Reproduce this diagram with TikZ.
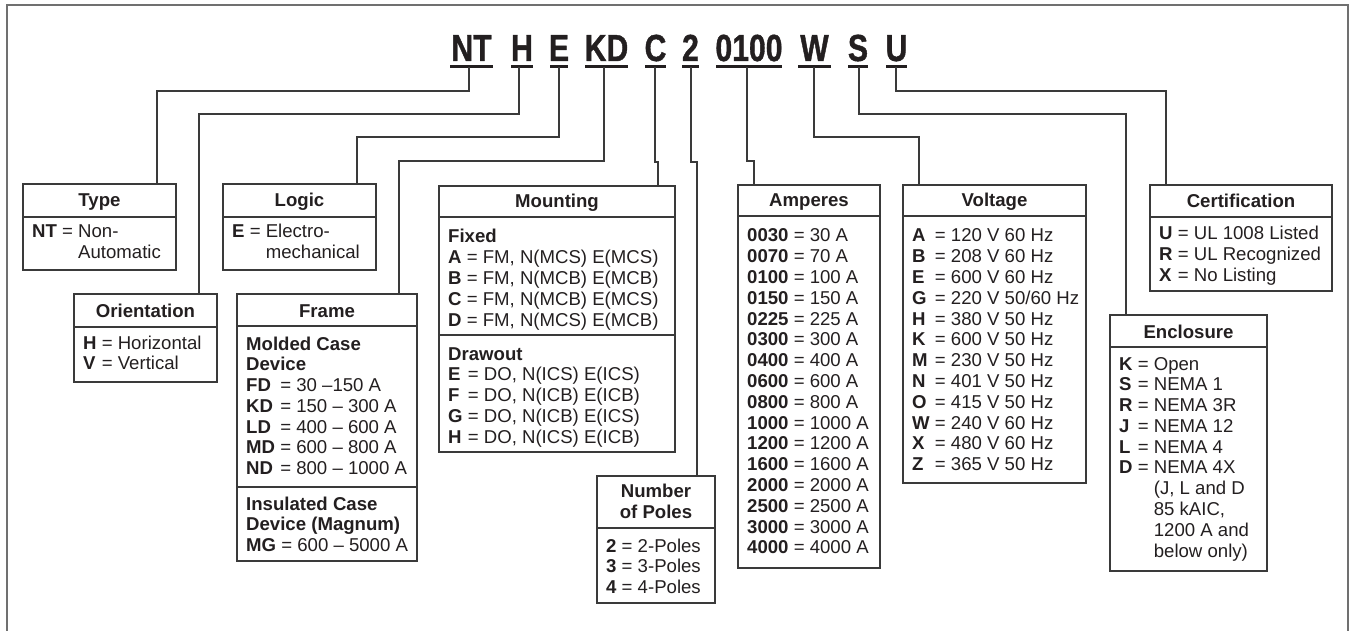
\documentclass[tikz,border=0pt]{standalone}
\usepackage{fontspec}
\setmainfont{Liberation Sans}
\newfontfamily\codefont[FakeBold=1.2]{Liberation Sans Bold}
\usepackage{array}
\definecolor{ink}{HTML}{231F20}
\definecolor{linec}{HTML}{3A3A3A}
\definecolor{framec}{HTML}{707070}
\tikzset{
  boxs/.style={draw=linec, line width=1.4pt, inner sep=0pt, outer sep=0pt, anchor=north west},
  divl/.style={draw=linec, line width=1.4pt},
  conn/.style={draw=linec, line width=1.3pt},
  hdr/.style={font=\bfseries\fontsize{18.6}{20.8}\selectfont, text=ink, anchor=base, inner sep=0pt},
  body/.style={font=\fontsize{18.6}{20.8}\selectfont, text=ink, anchor=base west, inner sep=0pt},
  codet/.style={font=\codefont\fontsize{37.7}{40}\selectfont, text=ink, anchor=base, inner sep=0pt},
  uline/.style={draw=ink, line width=3pt},
}
\newcommand\tb[1]{\begin{tabular}[t]{@{}>{\bfseries}l@{\ }l@{\ }l@{}}#1\end{tabular}}
\newcommand\sh[1]{\multicolumn{3}{@{}l@{}}{\textbf{#1}}}
\newcommand\cs[1]{\scalebox{0.8}[1]{#1}}
\begin{document}
\begin{tikzpicture}[x=1pt,y=-1pt]
\useasboundingbox (0,0) rectangle (1350,631);
% outer frame
\draw[framec, line width=2pt] (7,631) -- (7,5) -- (1348,5) -- (1348,631);

% code
\node[codet] (c-nt) at (471.5,61) {\cs{NT}};
\node[codet] (c-h) at (522,61) {\cs{H}};
\node[codet] (c-e) at (559,61) {\cs{E}};
\node[codet] (c-kd) at (606.5,61) {\cs{KD}};
\node[codet] (c-c) at (655.5,61) {\cs{C}};
\node[codet] (c-2) at (690.5,61) {\cs{2}};
\node[codet] (c-0100) at (749,61) {\cs{0100}};
\node[codet] (c-w) at (814.5,61) {\cs{W}};
\node[codet] (c-s) at (858,61) {\cs{S}};
\node[codet] (c-u) at (896.5,61) {\cs{U}};
\draw[uline] (450,67) -- (493,67);
\draw[uline] (511,67) -- (533,67);
\draw[uline] (550,67) -- (568,67);
\draw[uline] (585,67) -- (628,67);
\draw[uline] (645,67) -- (666,67);
\draw[uline] (682,67) -- (699,67);
\draw[uline] (716,67) -- (782,67);
\draw[uline] (798,67) -- (831,67);
\draw[uline] (848,67) -- (868,67);
\draw[uline] (886,67) -- (907,67);

% boxes
\node[boxs, minimum width=153pt, minimum height=86pt] (type) at (23,184) {};
\draw[divl] (23,217) -- (176,217);
\node[hdr] at (99.5,207) {Type};
\node[body] at (32,238) {\tb{NT & = & Non-\\ & & Automatic}};

\node[boxs, minimum width=143pt, minimum height=88pt] (orient) at (74,294) {};
\draw[divl] (74,327) -- (217,327);
\node[hdr] at (145.5,317) {Orientation};
\node[body] at (83,349) {\tb{H & = & Horizontal\\ V & = & Vertical}};

\node[boxs, minimum width=153pt, minimum height=86pt] (logic) at (223,184) {};
\draw[divl] (223,217) -- (376,217);
\node[hdr] at (299.5,207) {Logic};
\node[body] at (232,238) {\tb{E & = & Electro-\\ & & mechanical}};

\node[boxs, minimum width=180pt, minimum height=267pt] (frame) at (237,294) {};
\draw[divl] (237,326) -- (417,326);
\draw[divl] (237,487) -- (417,487);
\node[hdr] at (327,317) {Frame};
\node[body] at (246,350) {\tb{\sh{Molded Case}\\ \sh{Device}\\ FD & = & 30 –150 A\\ KD & = & 150 – 300 A\\ LD & = & 400 – 600 A\\ MD & = & 600 – 800 A\\ ND & = & 800 – 1000 A}};
\node[body] at (246,510) {\tb{\sh{Insulated Case}\\ \sh{Device (Magnum)}\\ MG & = & 600 – 5000 A}};

\node[boxs, minimum width=236pt, minimum height=266pt] (mount) at (439,186) {};
\draw[divl] (439,217) -- (675,217);
\draw[divl] (439,335) -- (675,335);
\node[hdr] at (557,208) {Mounting};
\node[body] at (448,243) {\tb{\sh{Fixed}\\ A & = & FM, N(MCS) E(MCS)\\ B & = & FM, N(MCB) E(MCB)\\ C & = & FM, N(MCB) E(MCS)\\ D & = & FM, N(MCS) E(MCB)}};
\node[body] at (448,360) {\tb{\sh{Drawout}\\ E & = & DO, N(ICS) E(ICS)\\ F & = & DO, N(ICB) E(ICB)\\ G & = & DO, N(ICB) E(ICS)\\ H & = & DO, N(ICS) E(ICB)}};

\node[boxs, minimum width=118pt, minimum height=127pt] (poles) at (597,476) {};
\draw[divl] (597,528) -- (715,528);
\node[hdr] at (656,497) {Number};
\node[hdr] at (656,518) {of Poles};
\node[body] at (606,552) {\tb{2 & = & 2-Poles\\ 3 & = & 3-Poles\\ 4 & = & 4-Poles}};

\node[boxs, minimum width=142pt, minimum height=383pt] (amps) at (738,185) {};
\draw[divl] (738,216) -- (880,216);
\node[hdr] at (809,207) {Amperes};
\node[body] at (747,242) {\tb{0030 & = & 30 A\\ 0070 & = & 70 A\\ 0100 & = & 100 A\\ 0150 & = & 150 A\\ 0225 & = & 225 A\\ 0300 & = & 300 A\\ 0400 & = & 400 A\\ 0600 & = & 600 A\\ 0800 & = & 800 A\\ 1000 & = & 1000 A\\ 1200 & = & 1200 A\\ 1600 & = & 1600 A\\ 2000 & = & 2000 A\\ 2500 & = & 2500 A\\ 3000 & = & 3000 A\\ 4000 & = & 4000 A}};

\node[boxs, minimum width=183pt, minimum height=298pt] (volt) at (903,185) {};
\draw[divl] (903,216) -- (1086,216);
\node[hdr] at (994.5,207) {Voltage};
\node[body] at (912,242) {\tb{A & = & 120 V 60 Hz\\ B & = & 208 V 60 Hz\\ E & = & 600 V 60 Hz\\ G & = & 220 V 50/60 Hz\\ H & = & 380 V 50 Hz\\ K & = & 600 V 50 Hz\\ M & = & 230 V 50 Hz\\ N & = & 401 V 50 Hz\\ O & = & 415 V 50 Hz\\ W & = & 240 V 60 Hz\\ X & = & 480 V 60 Hz\\ Z & = & 365 V 50 Hz}};

\node[boxs, minimum width=182pt, minimum height=106pt] (cert) at (1150,185) {};
\draw[divl] (1150,217) -- (1332,217);
\node[hdr] at (1241,208) {Certification};
\node[body] at (1159,240) {\tb{U & = & UL 1008 Listed\\ R & = & UL Recognized\\ X & = & No Listing}};

\node[boxs, minimum width=157pt, minimum height=256pt] (encl) at (1110,315) {};
\draw[divl] (1110,347) -- (1267,347);
\node[hdr] at (1188.5,338) {Enclosure};
\node[body] at (1119,370) {\tb{K & = & Open\\ S & = & NEMA 1\\ R & = & NEMA 3R\\ J & = & NEMA 12\\ L & = & NEMA 4\\ D & = & NEMA 4X\\ & & (J, L and D\\ & & 85 kAIC,\\ & & 1200 A and\\ & & below only)}};

% connectors
\coordinate (u-nt) at (469,67);   \coordinate (k-nt) at (157,91);
\coordinate (u-h) at (519,67);    \coordinate (k-h) at (199,114);
\coordinate (u-e) at (559,67);    \coordinate (k-e) at (357,137);
\coordinate (u-kd) at (604,67);   \coordinate (k-kd) at (399,161);
\coordinate (u-c) at (655,67);    \coordinate (k-c) at (658,162);
\coordinate (u-2) at (691,67);    \coordinate (k-2) at (697,162);
\coordinate (u-0100) at (747,67); \coordinate (k-0100) at (754,161);
\coordinate (u-w) at (814,67);    \coordinate (k-w) at (919,137);
\coordinate (u-s) at (859,67);    \coordinate (k-s) at (1126,114);
\coordinate (u-u) at (896,67);    \coordinate (k-u) at (1166,91);
\draw[conn] (u-nt) |- (k-nt) -- (k-nt |- type.north);
\draw[conn] (u-h) |- (k-h) -- (k-h |- orient.north);
\draw[conn] (u-e) |- (k-e) -- (k-e |- logic.north);
\draw[conn] (u-kd) |- (k-kd) -- (k-kd |- frame.north);
\draw[conn] (u-c) |- (k-c) -- (k-c |- mount.north);
\draw[conn] (u-2) |- (k-2) -- (k-2 |- poles.north);
\draw[conn] (u-0100) |- (k-0100) -- (k-0100 |- amps.north);
\draw[conn] (u-w) |- (k-w) -- (k-w |- volt.north);
\draw[conn] (u-s) |- (k-s) -- (k-s |- encl.north);
\draw[conn] (u-u) |- (k-u) -- (k-u |- cert.north);
\end{tikzpicture}
\end{document}
